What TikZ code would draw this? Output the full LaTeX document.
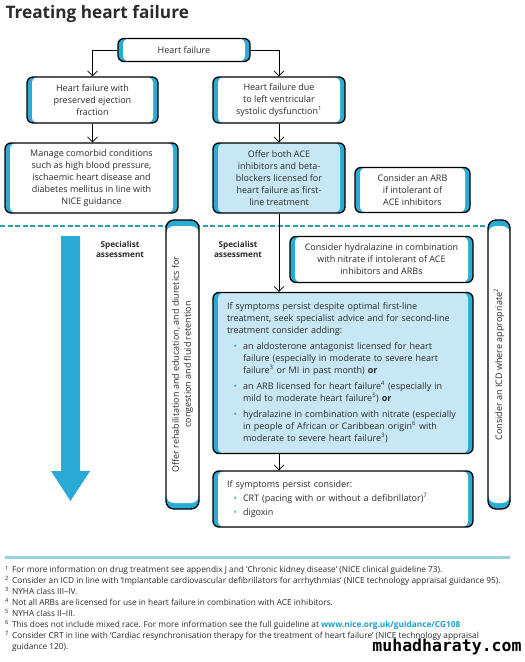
\documentclass[tikz,border=0pt]{standalone}
\usepackage{fontspec}
\setmainfont{Open Sans}
\newfontfamily\markfont{DejaVu Sans Mono}
\usetikzlibrary{arrows.meta}

\definecolor{hfcyan}{HTML}{29ABD6}
\definecolor{hflight}{HTML}{C6E7F3}
\definecolor{hfdash}{HTML}{2A9DB3}
\definecolor{hfrule}{HTML}{96D3DF}
\definecolor{hftext}{HTML}{2B2B2B}
\definecolor{hflink}{HTML}{1C9FD0}

\newenvironment{hflist}[1][4pt]{%
  \begin{list}{\textcolor{hfcyan}{\textbullet}}{%
    \setlength{\leftmargin}{16pt}\setlength{\labelwidth}{8pt}%
    \setlength{\labelsep}{6pt}\setlength{\itemsep}{#1}%
    \setlength{\parsep}{0pt}\setlength{\topsep}{#1}}}%
  {\end{list}}

\tikzset{
  hbox/.style={draw=black, line width=1.3pt, rounded corners=6pt, fill=hfcyan,
    align=center, inner sep=0pt,
    path picture={\fill[#1] ([xshift=5pt]path picture bounding box.south west)
      rectangle ([xshift=-5pt]path picture bounding box.north east);}},
  hbox/.default=white,
  vbox/.style={draw=black, line width=1.3pt, rounded corners=8pt, fill=hfcyan,
    inner sep=0pt,
    path picture={\fill[white] ([yshift=6pt]path picture bounding box.south west)
      rectangle ([yshift=-6pt]path picture bounding box.north east);}},
  flow/.style={black, line width=0.7pt, -{Straight Barb[length=5pt,width=10pt]}},
  spec/.style={font=\bfseries\fontsize{8.2}{10}\selectfont, align=center}
}

\begin{document}
\begin{tikzpicture}[x=1pt, y=-1pt,
  every node/.style={text=hftext, font=\fontsize{9}{12}\selectfont}]
  \useasboundingbox[fill=white] (0,0) rectangle (525,662);

  % Title
  \node[anchor=west, font=\bfseries\fontsize{17.2}{20}\selectfont] (title) at (2,14) {Treating heart failure};

  % Divider
  \draw[hfdash, line width=2pt, dash pattern=on 5pt off 2.5pt] (0,226) -- (495,226);

  % Big arrow
  \fill[hfcyan] (61,236) -- (80,236) -- (80,471) -- (90,471) -- (70.5,501) -- (51,471) -- (61,471) -- cycle;

  % Boxes
  \node[hbox, minimum width=132pt, minimum height=23pt] (hf) at (184,50) {Heart failure};
  \node[hbox, minimum width=131pt, minimum height=46pt] (pef) at (92.5,100) {Heart failure with\\preserved ejection\\fraction};
  \node[hbox, minimum width=132pt, minimum height=46pt] (lvsd) at (279,100) {Heart failure due\\to left ventricular\\systolic dysfunction\textsuperscript{1}};
  \node[hbox, minimum width=173pt, minimum height=70pt] (manage) at (91.5,178) {Manage comorbid conditions\\such as high blood pressure,\\ischaemic heart disease and\\diabetes mellitus in line with\\NICE guidance};
  \node[hbox=hflight, minimum width=132pt, minimum height=70pt] (offer) at (279,178) {Offer both ACE\\inhibitors and beta-\\blockers licensed for\\heart failure as first-\\line treatment};
  \node[hbox, minimum width=115pt, minimum height=45pt] (arb) at (412.5,190) {Consider an ARB\\if intolerant of\\ACE inhibitors};

  \node[vbox, minimum width=33pt, minimum height=289pt] (rehab) at (182.5,364.5) {};
  \node[rotate=90, align=center] (rehabtext) at (rehab) {Offer rehabilitation and education, and diuretics for\\congestion and fluid retention};
  \node[vbox, minimum width=22pt, minimum height=289pt] (icd) at (499,364.5) {};
  \node[rotate=90] (icdtext) at (icd) {Consider an ICD where appropriate\textsuperscript{2}};

  \node[spec] (spec1) at (120,249) {Specialist\\assessment};
  \node[spec] (spec2) at (238,249) {Specialist\\assessment};

  \node[hbox, minimum width=183pt, minimum height=46pt] (hydra) at (381.5,259.5) {Consider hydralazine in combination\\with nitrate if intolerant of ACE\\inhibitors and ARBs};
  \node[hbox=hflight, minimum width=260pt, minimum height=161pt, text width=232pt, align=left] (second) at (343,373) {%
    If symptoms persist despite optimal first-line\\
    treatment, seek specialist advice and for second-line\\
    treatment consider adding:
    \begin{hflist}
      \item an aldosterone antagonist licensed for heart\\ failure (especially in moderate to severe heart\\ failure\textsuperscript{3} or MI in past month) \textbf{or}
      \item an ARB licensed for heart failure\textsuperscript{4} (especially in\\ mild to moderate heart failure\textsuperscript{5}) \textbf{or}
      \item hydralazine in combination with nitrate (especially\\ in people of African or Caribbean origin\textsuperscript{6} with\\ moderate to severe heart failure\textsuperscript{3})
    \end{hflist}};
  \node[hbox, minimum width=260pt, minimum height=56pt, text width=232pt, align=left] (third) at (343,499) {%
    If symptoms persist consider:
    \begin{hflist}[2pt]
      \item CRT (pacing with or without a defibrillator)\textsuperscript{7}
      \item digoxin
    \end{hflist}};

  % Connectors
  \draw[flow] (hf.west) -| (pef.north);
  \draw[flow] (hf.east) -| (lvsd.north);
  \draw[flow] (pef.south) -- (pef.south |- manage.north);
  \draw[flow] (lvsd.south) -- (offer.north);
  \draw[flow] (offer.south) -- (offer.south |- second.north);
  \draw[flow] (offer.south |- second.south) -- (offer.south |- third.north);

  % Footnotes
  \draw[hfrule, line width=3pt] (5,557) -- (510,557);
  \node[anchor=north west, inner sep=0pt, font=\fontsize{8.3}{10.9}\selectfont] (notes) at (5,565) {%
    \begin{tabular}{@{}r@{\hspace{3pt}}l@{}}
      \textsuperscript{1} & For more information on drug treatment see appendix J and `Chronic kidney disease' (NICE clinical guideline 73).\\
      \textsuperscript{2} & Consider an ICD in line with `Implantable cardiovascular defibrillators for arrhythmias' (NICE technology appraisal guidance 95).\\
      \textsuperscript{3} & NYHA class III--IV.\\
      \textsuperscript{4} & Not all ARBs are licensed for use in heart failure in combination with ACE inhibitors.\\
      \textsuperscript{5} & NYHA class II--III.\\
      \textsuperscript{6} & This does not include mixed race. For more information see the full guideline at \textcolor{hflink}{\bfseries www.nice.org.uk/guidance/CG108}\\
      \textsuperscript{7} & Consider CRT in line with `Cardiac resynchronisation therapy for the treatment of heart failure' (NICE technology appraisal\\
       & guidance 120).
    \end{tabular}};
  \node[font=\markfont\bfseries\fontsize{16.5}{19}\selectfont, text=black] (mark) at (447,647) {muhadharaty.com};
\end{tikzpicture}
\end{document}
